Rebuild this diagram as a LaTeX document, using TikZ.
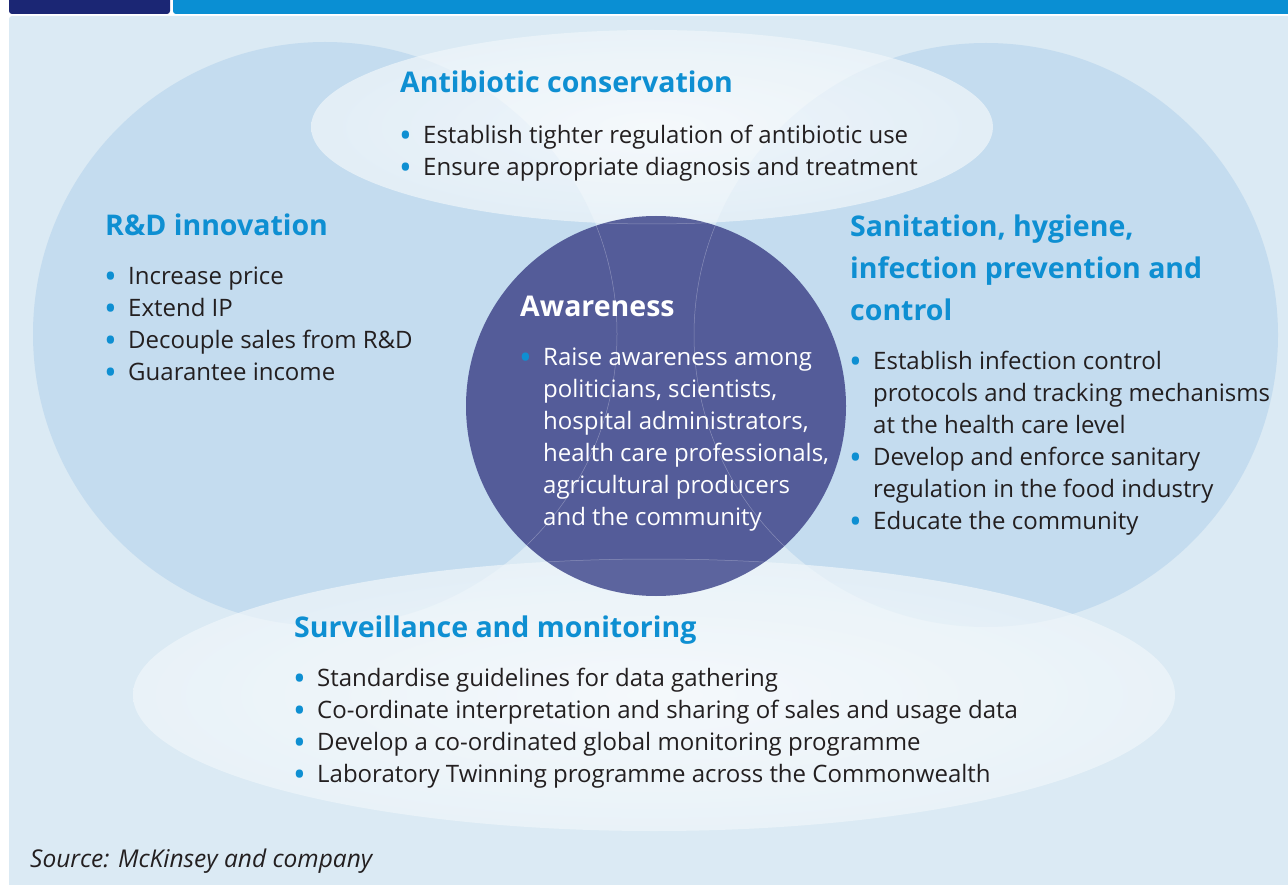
\documentclass[tikz,border=0pt]{standalone}
\usepackage{fontspec}
\setmainfont{Open Sans}
\definecolor{panelbg}{HTML}{DBEAF4}
\definecolor{ovalblue}{HTML}{C4DCEF}
\definecolor{headblue}{HTML}{0E8FD2}
\definecolor{barblue}{HTML}{0A8FD3}
\definecolor{tabnavy}{HTML}{1B2674}
\definecolor{coreblue}{HTML}{545C99}
\definecolor{inktext}{HTML}{231F20}
\newcommand{\itm}{\makebox[23pt][l]{\hspace{-1pt}\textcolor{headblue}{\raisebox{-4pt}{\fontsize{34}{32}\selectfont\textbullet}}}}
\newcommand{\cont}{\hspace*{23pt}}
\begin{document}
\begin{tikzpicture}[
            x=1pt, y=-1pt,
            heading/.style={
                anchor=base west,
                inner sep=0pt,
                align=left,
                text=headblue,
                font=\fontsize{28.5}{42}\selectfont\bfseries
            },
            itemlist/.style={
                anchor=north west,
                inner sep=0pt,
                align=left,
                text=inktext,
                font=\fontsize{24}{32}\selectfont
            },
            paleoval/.style={
                inner color=white,
                outer color=white!55!panelbg,
                fill opacity=0.72
            }
        ]

            \useasboundingbox (0,0) rectangle (1288,885);

            % panel and header strip
            \fill[panelbg, rounded corners=3pt] (9,16) rectangle (1300,900);
            \fill[tabnavy, rounded corners=3pt] (9,-10) rectangle (170,14);
            \fill[barblue, rounded corners=3pt] (173,-10) rectangle (1300,14);

            % the four fields
            \fill[ovalblue] (325,334) circle (292);
            \fill[ovalblue] (986,335) circle (292);
            \shade[paleoval] (652,127) ellipse (341 and 97);
            \shade[paleoval] (654,695) ellipse (521 and 136);

            % awareness core
            \fill[coreblue] (656,406) circle (190);
            \begin{scope}
                \clip (656,406) circle (190);
                \fill[white, opacity=0.03] (652,127) ellipse (341 and 97);
                \fill[white, opacity=0.05] (654,695) ellipse (521 and 136);
                \draw[white, opacity=0.3, line width=0.5pt] (325,334) circle (292);
                \draw[white, opacity=0.3, line width=0.5pt] (986,335) circle (292);
                \draw[white, opacity=0.3, line width=0.5pt] (652,127) ellipse (341 and 97);
                \draw[white, opacity=0.3, line width=0.5pt] (654,695) ellipse (521 and 136);
            \end{scope}

            % list tops sit 22.4pt above the first baseline (strut height)
            \node[heading] (antibio) at (400,93) {Antibiotic conservation};
            \node[itemlist] (antibioList) at (400,120.6) {%
                \strut\itm Establish tighter regulation of antibiotic use\\
                \itm Ensure appropriate diagnosis and treatment};

            \node[heading] (rnd) at (105,236) {R\&D innovation};
            \node[itemlist] (rndList) at (105,261.6) {%
                \strut\itm Increase price\\
                \itm Extend IP\\
                \itm Decouple sales from R\&D\\
                \itm Guarantee income};

            \node[heading, anchor=north west] (sanit) at (850,206.6) {\strut Sanitation, hygiene,\\
                infection prevention and\\
                control};
            \node[itemlist] (sanitList) at (850,346.6) {%
                \strut\itm Establish infection control\\
                \cont protocols and tracking mechanisms\\
                \cont at the health care level\\
                \itm Develop and enforce sanitary\\
                \cont regulation in the food industry\\
                \itm Educate the community};

            \node[heading, text=white] (aware) at (520,317) {Awareness};
            \node[itemlist, text=white] (awareList) at (520,342.6) {%
                \strut\itm Raise awareness among\\
                \cont politicians, scientists,\\
                \cont hospital administrators,\\
                \cont health care professionals,\\
                \cont agricultural producers\\
                \cont and the community};

            \node[heading] (surv) at (294,637) {Surveillance and monitoring};
            \node[itemlist] (survList) at (294,663.6) {%
                \strut\itm Standardise guidelines for data gathering\\
                \itm Co-ordinate interpretation and sharing of sales and usage data\\
                \itm Develop a co-ordinated global monitoring programme\\
                \itm Laboratory Twinning programme across the Commonwealth};

            \node[heading, text=inktext, font=\fontsize{24.5}{32}\selectfont\itshape] (source) at (30,867) {Source: McKinsey and company};

        \end{tikzpicture}
\end{document}
